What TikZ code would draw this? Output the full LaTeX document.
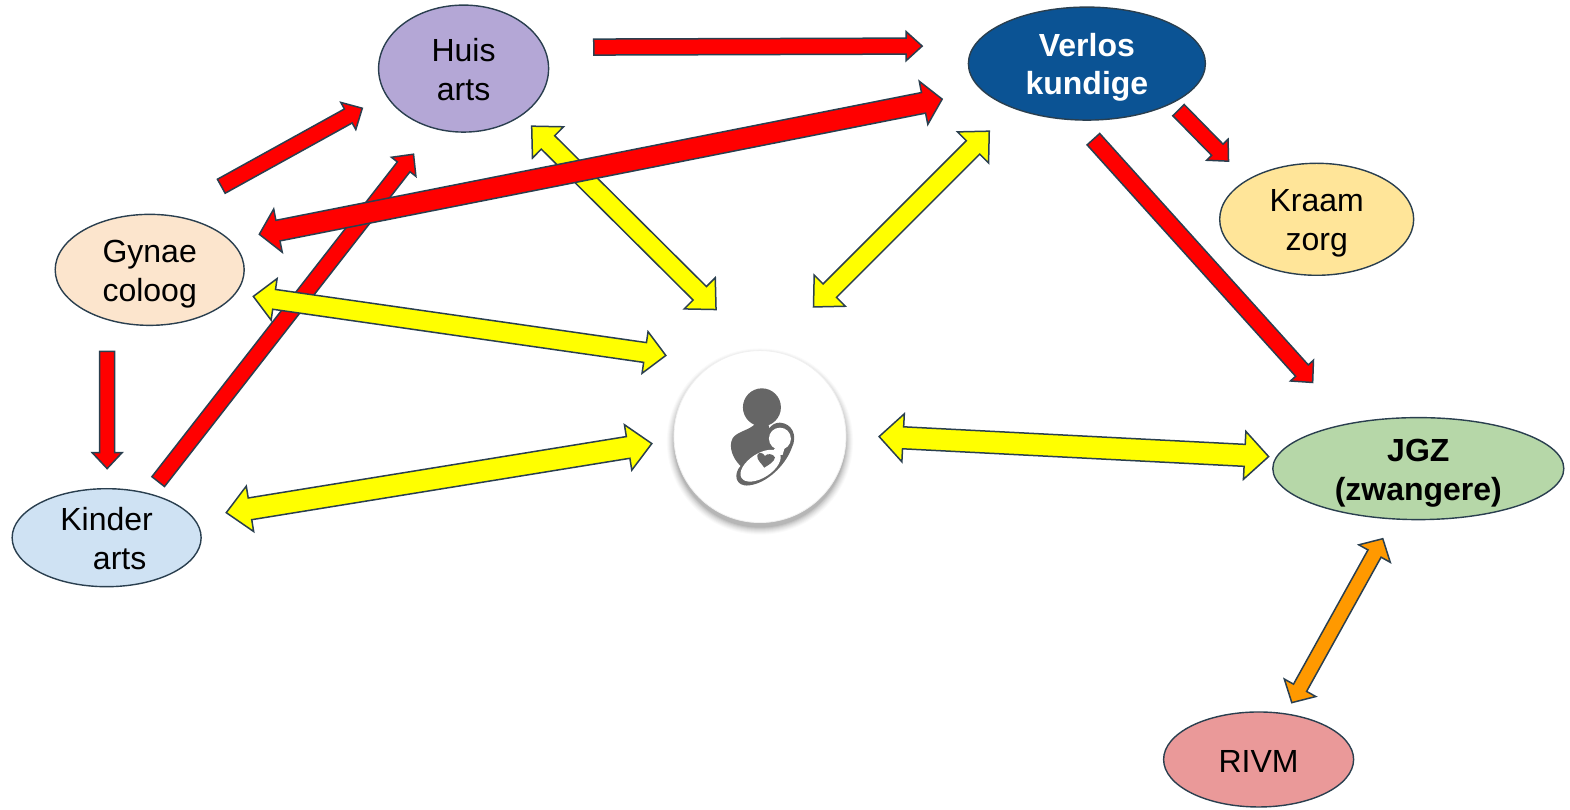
\documentclass[tikz,border=0pt]{standalone}
\usepackage{fontspec}
\setmainfont{Liberation Sans}
\usetikzlibrary{calc,shapes.geometric}
\definecolor{edgedark}{HTML}{2A3F4F}
\definecolor{iconGrey}{HTML}{666666}
\definecolor{arrowRed}{RGB}{255,0,0}
\definecolor{arrowYellow}{RGB}{255,255,0}
\definecolor{arrowOrange}{RGB}{255,153,0}
\definecolor{huisFill}{RGB}{180,167,214}
\definecolor{verlosFill}{RGB}{11,83,148}
\definecolor{kraamFill}{RGB}{255,229,153}
\definecolor{gynaeFill}{RGB}{252,229,205}
\definecolor{kinderFill}{RGB}{207,226,243}
\definecolor{jgzFill}{RGB}{182,215,168}
\definecolor{rivmFill}{RGB}{234,153,153}
\tikzset{
  org/.style={ellipse,draw=edgedark,line width=0.7pt,inner sep=-8pt,align=center,font=\fontsize{16}{19.5}\selectfont},
  blockline/.style={draw=edgedark,line width=0.75pt,line join=miter,miter limit=6},
}
\newcommand\up[1]{\rule{0pt}{#1pt}}
\newcommand\arrowgeom[2]{\path let \p1=($(#2)-(#1)$) in \pgfextra{\pgfmathsetmacro\tmpa{atan2(\y1,\x1)}\pgfmathsetmacro\tmpb{veclen(\x1,\y1)}\global\let\gang\tmpa\global\let\glen\tmpb};}
% from, to, shaft, head, headlength, fill (px)
\newcommand\singlear[6]{\arrowgeom{#1}{#2}%
 \pgfmathsetmacro\s{#3/4}\pgfmathsetmacro\h{#4/4}\pgfmathsetmacro\l{#5/2}\pgfmathsetmacro\e{\glen-\l}%
 \begin{scope}[shift={(#1)},rotate=\gang]
 \path[blockline,fill=#6] (0pt,\s pt)--(\e pt,\s pt)--(\e pt,\h pt)--(\glen pt,0pt)--(\e pt,-\h pt)--(\e pt,-\s pt)--(0pt,-\s pt)--cycle;
 \end{scope}}
\newcommand\doublear[6]{\arrowgeom{#1}{#2}%
 \pgfmathsetmacro\s{#3/4}\pgfmathsetmacro\h{#4/4}\pgfmathsetmacro\l{#5/2}\pgfmathsetmacro\e{\glen-\l}%
 \begin{scope}[shift={(#1)},rotate=\gang]
 \path[blockline,fill=#6] (0pt,0pt)--(\l pt,\h pt)--(\l pt,\s pt)--(\e pt,\s pt)--(\e pt,\h pt)--(\glen pt,0pt)--(\e pt,-\h pt)--(\e pt,-\s pt)--(\l pt,-\s pt)--(\l pt,-\h pt)--cycle;
 \end{scope}}
\begin{document}
\begin{tikzpicture}[x=0.50064pt,y=-0.50064pt]
\useasboundingbox (0,0) rectangle (1568,808);
% nodes
\node[org,fill=huisFill,minimum width=85pt,minimum height=63.5pt] (huis) at (463,68.5) {\up{12.5}Huis\\arts};
\node[org,fill=verlosFill,text=white,font=\fontsize{16}{19}\selectfont\bfseries,minimum width=118.5pt,minimum height=56.5pt] (verlos) at (1085.5,63.5) {\up{15}Verlos\\kundige};
\node[org,fill=kraamFill,minimum width=97pt,minimum height=56pt] (kraam) at (1315,219) {\up{15.5}Kraam\\zorg};
\node[org,fill=gynaeFill,minimum width=94.5pt,minimum height=55.5pt] (gynae) at (149.5,269.5) {\up{15.5}Gynae\\coloog};
\node[org,fill=kinderFill,minimum width=94.5pt,minimum height=49pt] (kinder) at (106.5,537) {\up{12.5}Kinder\\\hspace*{13pt}arts};
\node[org,fill=jgzFill,font=\fontsize{16}{19.5}\selectfont\bfseries,minimum width=145.5pt,minimum height=51pt] (jgz) at (1416.5,468) {\up{16}JGZ\\(zwangere)};
\node[org,fill=rivmFill,minimum width=95pt,minimum height=47.5pt] (rivm) at (1257,758.5) {\up{13.5}RIVM};
% client circle with soft shadow
\foreach \r/\o in {93/.02,92/.025,91/.03,90/.035,89/.04,88/.05,87/.06,86/.07}{\fill[black,opacity=\o] (759,441) circle[radius=\r];}
\node[circle,fill=white,draw=black!6,line width=.4pt,minimum size=86pt,inner sep=0pt] (client) at (759,436) {};
% icon, in 3x zoom coordinates
\begin{scope}[shift={(719,379.5)},x=0.16667pt,y=-0.16667pt]
\fill[iconGrey] (126,82) circle[radius=57];
\fill[iconGrey] (105,132) .. controls (90,150) and (50,155) .. (38,175)
  .. controls (25,200) and (38,235) .. (62,258)
  .. controls (40,280) and (45,322) .. (88,316)
  .. controls (140,310) and (195,258) .. (215,205)
  .. controls (235,165) and (215,130) .. (180,128)
  .. controls (165,128) and (155,135) .. (148,145) -- (145,130) -- cycle;
\fill[white,rotate around={33:(122,257)}] (122,257) ellipse[x radius=68,y radius=36];
\fill[white] (180,176) ellipse[x radius=33,y radius=33];
\fill[white] (165,205) -- (195,200) -- (188,225) -- (150,225) -- cycle;
\fill[iconGrey] (133,263) .. controls (125,250) and (110,240) .. (112,226)
  .. controls (115,215) and (130,217) .. (135,228)
  .. controls (140,220) and (160,220) .. (165,232)
  .. controls (165,245) and (145,255) .. (133,263) -- cycle;
\end{scope}
% connector ends
\coordinate (hvA) at (593,47); \coordinate (hvB) at (921,46);
\coordinate (ghA) at (221,186); \coordinate (ghB) at (362,108);
\coordinate (khA) at (158,481); \coordinate (khB) at (413,154);
\coordinate (vgA) at (259,234); \coordinate (vgB) at (941,99);
\coordinate (gkA) at (107,351); \coordinate (gkB) at (107,468);
\coordinate (vkA) at (1177,110); \coordinate (vkB) at (1227,161);
\coordinate (vjA) at (1092,139); \coordinate (vjB) at (1311,382);
\coordinate (hcA) at (531,126); \coordinate (hcB) at (716,310);
\coordinate (vcA) at (988,131); \coordinate (vcB) at (812,307);
\coordinate (gcA) at (253,296); \coordinate (gcB) at (665,355);
\coordinate (kcA) at (226,512); \coordinate (kcB) at (651,443);
\coordinate (cjA) at (878,436); \coordinate (cjB) at (1267,456);
\coordinate (jrA) at (1381,538); \coordinate (jrB) at (1290,702);
% arrows
\singlear{khA}{khB}{16}{31}{16}{arrowRed}
\doublear{hcA}{hcB}{19}{44}{23}{arrowYellow}
\doublear{vcA}{vcB}{19}{44}{23}{arrowYellow}
\doublear{gcA}{gcB}{20}{42}{21}{arrowYellow}
\doublear{kcA}{kcB}{22}{46}{24}{arrowYellow}
\doublear{cjA}{cjB}{22}{48}{24}{arrowYellow}
\doublear{jrA}{jrB}{15}{36}{17}{arrowOrange}
\singlear{hvA}{hvB}{16}{29}{16}{arrowRed}
\singlear{ghA}{ghB}{16}{31}{16}{arrowRed}
\doublear{vgA}{vgB}{21}{44}{19}{arrowRed}
\singlear{gkA}{gkB}{15}{30}{16}{arrowRed}
\singlear{vkA}{vkB}{16}{30}{16}{arrowRed}
\singlear{vjA}{vjB}{17}{31}{16}{arrowRed}
\end{tikzpicture}
\end{document}
